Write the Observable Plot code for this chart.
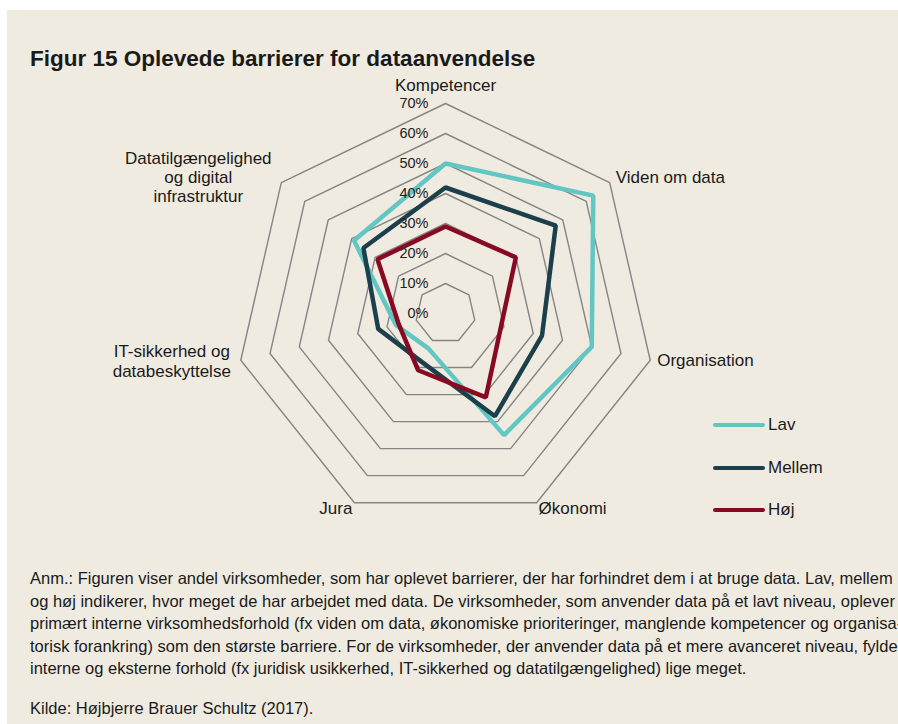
<!DOCTYPE html>
<html>
<head>
<meta charset="utf-8">
<script src="https://cdn.jsdelivr.net/npm/d3@7"></script>
<script src="https://cdn.jsdelivr.net/npm/@observablehq/plot@0.6"></script>
<style>
  html, body { margin: 0; padding: 0; background: #ffffff; }
  #page { position: absolute; left: 7px; top: 10px; width: 891px; height: 714px; background: #f0ebe0; overflow: hidden; }
  #title { position: absolute; left: 23px; top: 38px; font: bold 22.5px "Liberation Sans", Arial, sans-serif; line-height: 22.5px; color: #1a1a1a; white-space: nowrap; }
  #chart { position: absolute; left: -7px; top: 60px; }
  #legend { position: absolute; left: 0; top: 0; }
  .lg { position: absolute; font: 17px "Liberation Sans", Arial, sans-serif; color: #1a1a1a; white-space: nowrap; }
  .lg span.sw { position: absolute; left: 0; top: 6px; width: 52px; height: 4px; border-radius: 2px; }
  .lg span.tx { position: absolute; left: 55px; top: -2px; }
  #note { position: absolute; left: 23px; top: 557px; font: 16.5px "Liberation Sans", Arial, sans-serif; color: #1a1a1a; line-height: 22.5px; white-space: nowrap; }
  #src { position: absolute; left: 23px; top: 687px; font: 16.5px "Liberation Sans", Arial, sans-serif; line-height: 22.5px; color: #1a1a1a; white-space: nowrap; }
</style>
</head>
<body>
<div id="page">
  <div id="title"></div>
  <div id="chart"></div>
  <div id="legend"></div>
  <div id="note"></div>
  <div id="src"></div>
</div>
<script>
// ---- data ----
const axes = ["Kompetencer", "Viden om data", "Organisation", "Økonomi", "Jura", "IT-sikkerhed og\ndatabeskyttelse", "Datatilgængelighed\nog digital\ninfrastruktur"];
const seriesNames = ["Lav", "Mellem", "Høj"];
const lav = [50, 63, 50, 45, 13, 17, 39];
const mellem = [42, 47, 33, 38, 18, 23, 35];
const hoj = [29, 30, 19, 31, 21, 16, 29];
const ticks = [0, 10, 20, 30, 40, 50, 60, 70];
const tickLabels = ["0%", "10%", "20%", "30%", "40%", "50%", "60%", "70%"];
const titleText = "Figur 15 Oplevede barrierer for dataanvendelse";
const noteLines = [
  "Anm.: Figuren viser andel virksomheder, som har oplevet barrierer, der har forhindret dem i at bruge data. Lav, mellem",
  "og høj indikerer, hvor meget de har arbejdet med data. De virksomheder, som anvender data på et lavt niveau, oplever",
  "primært interne virksomhedsforhold (fx viden om data, økonomiske prioriteringer, manglende kompetencer og organisa-",
  "torisk forankring) som den største barriere. For de virksomheder, der anvender data på et mere avanceret niveau, fylder",
  "interne og eksterne forhold (fx juridisk usikkerhed, IT-sikkerhed og datatilgængelighed) lige meget."
];
const sourceText = "Kilde: Højbjerre Brauer Schultz (2017).";

// ---- styles ----
const colors = {"Lav": "#62c6c3", "Mellem": "#1b3f4b", "Høj": "#880a22"};
const FONT = "Liberation Sans, Arial, sans-serif";

// ---- geometry helpers (polar -> cartesian in data units) ----
const n = axes.length;
const ang = i => (2 * Math.PI * i) / n;
const px = (i, v) => v * Math.sin(ang(i));
const py = (i, v) => v * Math.cos(ang(i));

const seriesValues = [lav, mellem, hoj];
const rows = [];
seriesNames.forEach((s, k) => seriesValues[k].forEach((v, i) => rows.push({series: s, axis: axes[i], x: px(i, v), y: py(i, v)})));

const gridRows = [];
ticks.filter(t => t > 0).forEach(t => axes.forEach((a, i) => gridRows.push({ring: t, x: px(i, t), y: py(i, t)})));

const tickRows = ticks.map((t, j) => ({x: 0, y: t, label: tickLabels[j]}));

const outer = 70;
const lab = axes.map((a, i) => ({label: a, x: px(i, outer), y: py(i, outer), i}));

// ---- scale setup: 3 px per percentage point ----
const W = 898, H = 470;
const cx = 445, cy = 313 - 70; // centre inside svg
const k = 3;
const LF = 17;

const chart = Plot.plot({
  width: W, height: H,
  marginTop: 0, marginBottom: 0, marginLeft: 0, marginRight: 0,
  style: {background: "transparent", overflow: "visible"},
  x: {type: "linear", domain: [-cx / k, (W - cx) / k], range: [0, W], axis: null},
  y: {type: "linear", domain: [-(H - cy) / k, cy / k], range: [H, 0], axis: null},
  marks: [
    Plot.line(gridRows, {x: "x", y: "y", z: "ring", curve: "linear-closed", stroke: "#858585", strokeWidth: 1.4}),
    Plot.line(rows, {x: "x", y: "y", z: "series", curve: "linear-closed", stroke: d => colors[d.series], strokeWidth: 4.5, strokeLinejoin: "miter"}),
    Plot.text(tickRows, {x: "x", y: "y", text: "label", textAnchor: "end", dx: -17, fontSize: 14.5, fontFamily: FONT, fill: "#222"}),
    // axis labels
    Plot.text(lab.filter(d => d.i === 0), {x: "x", y: "y", text: "label", dy: -18, fontSize: LF, fontFamily: FONT, fill: "#1a1a1a"}),
    Plot.text(lab.filter(d => d.i === 1), {x: "x", y: "y", text: "label", textAnchor: "start", dx: 6, dy: -5, fontSize: LF, fontFamily: FONT, fill: "#1a1a1a"}),
    Plot.text(lab.filter(d => d.i === 2), {x: "x", y: "y", text: "label", textAnchor: "start", dx: 7, dy: 0, fontSize: LF, fontFamily: FONT, fill: "#1a1a1a"}),
    Plot.text(lab.filter(d => d.i === 3), {x: "x", y: "y", text: "label", textAnchor: "start", dx: 2, dy: 6, fontSize: LF, fontFamily: FONT, fill: "#1a1a1a"}),
    Plot.text(lab.filter(d => d.i === 4), {x: "x", y: "y", text: "label", textAnchor: "end", dx: -2, dy: 6, fontSize: LF, fontFamily: FONT, fill: "#1a1a1a"}),
    Plot.text(lab.filter(d => d.i === 5), {x: "x", y: "y", text: "label", textAnchor: "middle", dx: -69, dy: 0, lineHeight: 1.18, fontSize: LF, fontFamily: FONT, fill: "#1a1a1a"}),
    Plot.text(lab.filter(d => d.i === 6), {x: "x", y: "y", text: "label", textAnchor: "middle", dx: -83, dy: -6, lineHeight: 1.12, fontSize: LF, fontFamily: FONT, fill: "#1a1a1a"})
  ]
});
document.getElementById("chart").appendChild(chart);

// ---- title, legend, notes ----
document.getElementById("title").textContent = titleText;
const legend = document.getElementById("legend");
seriesNames.forEach((s, j) => {
  const d = document.createElement("div");
  d.className = "lg";
  d.style.left = (713 - 7) + "px";
  d.style.top = (425 - 10 - 8 + j * 42.5) + "px";
  d.innerHTML = `<span class="sw" style="background:${colors[s]}"></span><span class="tx"></span>`;
  d.querySelector(".tx").textContent = s;
  legend.appendChild(d);
});
const note = document.getElementById("note");
noteLines.forEach(l => { const d = document.createElement("div"); d.textContent = l; note.appendChild(d); });
document.getElementById("src").textContent = sourceText;
</script>
</body>
</html>
